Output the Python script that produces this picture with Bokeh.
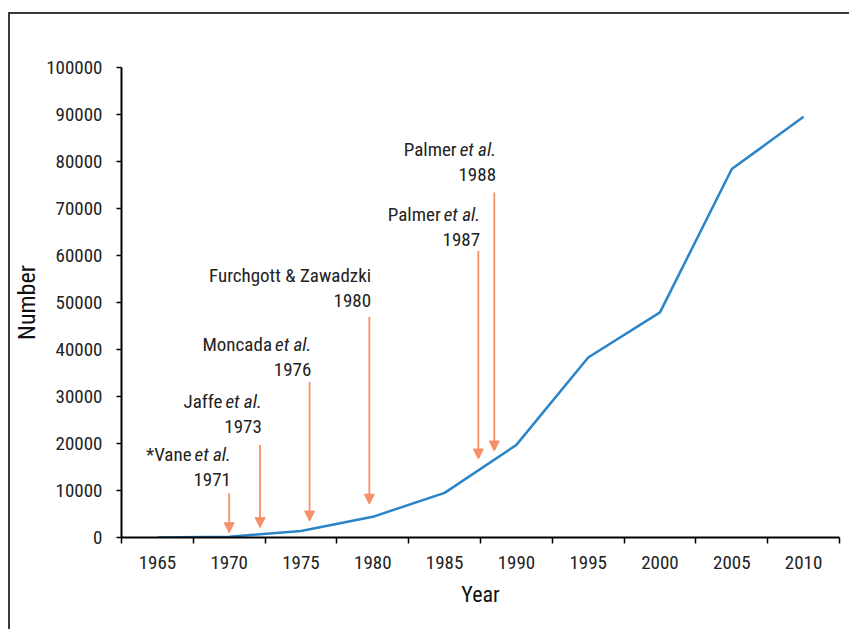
from bokeh.plotting import figure
from bokeh.models import Range1d, FixedTicker, ColumnDataSource, Arrow, NormalHead
from bokeh.core.properties import value
from bokeh.embed import file_html
from bokeh.resources import INLINE

# ---- data ----
years = [1965, 1970, 1975, 1980, 1985, 1990, 1995, 2000, 2005, 2010]
counts = [0, 150, 1400, 4400, 9500, 19700, 38300, 47900, 78400, 89500]

y_ticks = [0, 10000, 20000, 30000, 40000, 50000, 60000, 70000, 80000, 90000, 100000]
x_tick_labels = ["1965", "1970", "1975", "1980", "1985", "1990", "1995", "2000", "2005", "2010"]

ann_names = ["*Vane", "Jaffe", "Moncada", "Furchgott & Zawadzki", "Palmer", "Palmer"]
ann_italic = ["et al.", "et al.", "et al.", "", "et al.", "et al."]
ann_years = ["1971", "1973", "1976", "1980", "1987", "1988"]
arrow_x = [1970.0, 1972.15, 1975.6, 1979.76, 1987.35, 1988.46]
arrow_top = [9400, 19700, 33100, 46900, 61000, 73400]
arrow_tip = [1000, 2100, 3500, 7100, 16700, 18400]
label_y = [10600, 22000, 34000, 48700, 61700, 75500]

FONT = "'Liberation Sans Narrow', 'Arial Narrow', 'Roboto Condensed', sans-serif"
BLUE = "#2a84c8"
ORANGE = "#f4906a"

p = figure(width=841, height=617, output_backend="svg", toolbar_location=None,
           x_range=Range1d(1962.5, 2012.5), y_range=Range1d(0, 100000),
           min_border_left=111, min_border_right=12, min_border_top=53, min_border_bottom=94)
p.styles = {"border-top": "2px solid #3a3a3a", "border-left": "2px solid #3a3a3a",
            "margin-top": "12px", "margin-left": "8px"}
p.outline_line_color = None
p.grid.grid_line_color = None

# axes
p.yaxis.ticker = FixedTicker(ticks=y_ticks)
p.yaxis.formatter.use_scientific = False
p.yaxis.major_tick_out = 5
p.yaxis.major_tick_in = 0
p.yaxis.minor_tick_out = 0
p.yaxis.minor_tick_in = 0
p.yaxis.axis_line_width = 2
p.yaxis.major_tick_line_width = 1.5
p.yaxis.major_label_standoff = 14
p.yaxis.axis_label = "Number"
p.yaxis.axis_label_standoff = 2

minor = [1962.5 + 5 * i for i in range(11)]
p.xaxis.ticker = FixedTicker(ticks=years, minor_ticks=minor)
p.xaxis.major_label_overrides = {y: s for y, s in zip(years, x_tick_labels)}
p.xaxis.major_tick_out = 0
p.xaxis.major_tick_in = 0
p.xaxis.minor_tick_out = 6
p.xaxis.minor_tick_in = 0
p.xaxis.minor_tick_line_width = 1.5
p.xaxis.minor_tick_line_color = "black"
p.xaxis.axis_line_width = 2
p.xaxis.major_label_standoff = 12
p.xaxis.axis_label = "Year"
p.xaxis.axis_label_standoff = 10

for ax in (p.xaxis[0], p.yaxis[0]):
    ax.axis_line_color = "black"
    ax.major_tick_line_color = "black"
    ax.major_label_text_font = FONT
    ax.major_label_text_font_size = "19px"
    ax.major_label_text_color = "#222222"
    ax.axis_label_text_font = FONT
    ax.axis_label_text_font_size = "22px"
    ax.axis_label_text_font_style = "normal"
    ax.axis_label_text_color = "#111111"
p.yaxis.axis_label_text_font_size = "24px"

# data line
p.line(years, counts, line_color=BLUE, line_width=2.5)

# arrows
asrc = ColumnDataSource(dict(x=arrow_x, top=arrow_top, tip=arrow_tip))
p.add_layout(Arrow(end=NormalHead(size=10, fill_color=ORANGE, line_color=ORANGE, line_width=1),
                   x_start="x", y_start="top", x_end="x", y_end="tip",
                   line_color=ORANGE, line_width=1.8, source=asrc))

# annotation texts
lx = [x + 0.12 for x in arrow_x]
p.text(x=lx, y=label_y, text=ann_years, y_offset=-8, text_align="right", text_baseline="alphabetic",
       text_font=value(FONT), text_font_size="19px", text_color="#222222")
# italic part
it_idx = [i for i, s in enumerate(ann_italic) if s]
p.text(x=[lx[i] for i in it_idx], y=[label_y[i] for i in it_idx], text=[ann_italic[i] for i in it_idx],
       y_offset=-33, text_align="right", text_baseline="alphabetic", text_font=value(FONT),
       text_font_size="19px", text_font_style="italic", text_color="#222222")
p.text(x=[lx[i] for i in it_idx], y=[label_y[i] for i in it_idx], text=[ann_names[i] + " " for i in it_idx],
       x_offset=-35, y_offset=-33, text_align="right", text_baseline="alphabetic", text_font=value(FONT),
       text_font_size="19px", text_color="#222222")
no_it = [i for i, s in enumerate(ann_italic) if not s]
p.text(x=[lx[i] for i in no_it], y=[label_y[i] for i in no_it], text=[ann_names[i] for i in no_it],
       y_offset=-33, text_align="right", text_baseline="alphabetic", text_font=value(FONT),
       text_font_size="19px", text_color="#222222")

open("out.html", "w").write(file_html(p, INLINE))
